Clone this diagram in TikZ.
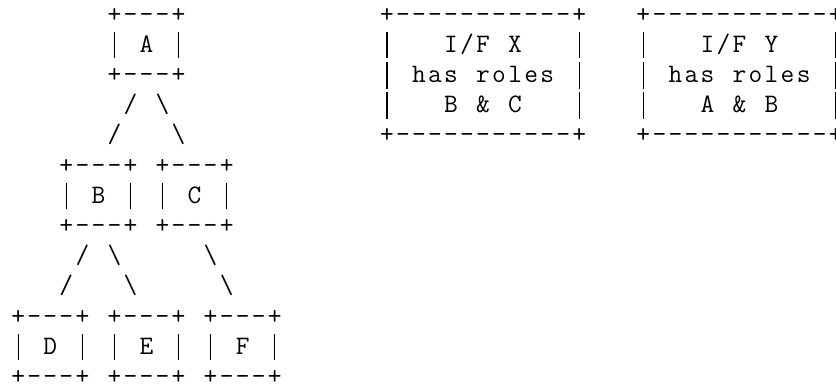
\documentclass[tikz,border=0pt]{standalone}
\usepackage{fontspec}
\usepackage{tikz}

% one fixed cell per character
\newlength{\cellw}
\setlength{\cellw}{12.02pt}
\newcommand{\asciifont}{\ttfamily\fontsize{20}{24}\selectfont}
\newcommand{\tallbar}{\rule[-4.5pt]{0.9pt}{20pt}}
\def\ascii#1{\asciistep#1\relax}
\def\asciistep#1{\ifx\relax#1\else
	\ifx|#1\makebox[\cellw]{\tallbar}\else\makebox[\cellw]{#1}\fi
	\expandafter\asciistep\fi}

\tikzset{asc/.style={inner sep=0pt, anchor=base west, font=\asciifont}}

\begin{document}
\begin{tikzpicture}[x=12.02pt, y=-22.65pt]
		\useasboundingbox (-0.623,-0.732) rectangle ++(52.16,12.75);

		% root A
		\node[asc] (aTop) at (6,0) {\ascii{+---+}};
		\node[asc] (aMid) at (6,1) {\ascii{|~A~|}};
		\node[asc] (aBot) at (6,2) {\ascii{+---+}};
		\node[asc] (aLegs1) at (7,3) {\ascii{/~\textbackslash}};
		\node[asc] (aLegs2) at (6,4) {\ascii{/~~~\textbackslash}};

		% B and C
		\foreach \name/\col in {B/3,C/9}{
			\node[asc] (top\name) at (\col,5) {\ascii{+---+}};
			\node[asc] (mid\name) at (\col,6) {\ascii{|~\name~|}};
			\node[asc] (bot\name) at (\col,7) {\ascii{+---+}};
		}
		\node[asc] (bLegs1) at (4,8) {\ascii{/~\textbackslash}};
		\node[asc] (bLegs2) at (3,9) {\ascii{/~~~\textbackslash}};
		\node[asc] (cLeg1) at (12,8) {\ascii{\textbackslash}};
		\node[asc] (cLeg2) at (13,9) {\ascii{\textbackslash}};

		% leaves D, E, F
		\foreach \name/\col in {D/0,E/6,F/12}{
			\node[asc] (top\name) at (\col,10) {\ascii{+---+}};
			\node[asc] (mid\name) at (\col,11) {\ascii{|~\name~|}};
			\node[asc] (bot\name) at (\col,12) {\ascii{+---+}};
		}

		% interface boxes
		\node[asc] (xTop) at (23,0) {\ascii{+-----------+}};
		\node[asc] (xRow1) at (23,1) {\ascii{|~~~I/F~X~~~|}};
		\node[asc] (xRow2) at (23,2) {\ascii{|~has~roles~|}};
		\node[asc] (xRow3) at (23,3) {\ascii{|~~~B~\&~C~~~|}};
		\node[asc] (xBot) at (23,4) {\ascii{+-----------+}};

		\node[asc] (yTop) at (39,0) {\ascii{+-----------+}};
		\node[asc] (yRow1) at (39,1) {\ascii{|~~~I/F~Y~~~|}};
		\node[asc] (yRow2) at (39,2) {\ascii{|~has~roles~|}};
		\node[asc] (yRow3) at (39,3) {\ascii{|~~~A~\&~B~~~|}};
		\node[asc] (yBot) at (39,4) {\ascii{+-----------+}};
	\end{tikzpicture}
\end{document}
